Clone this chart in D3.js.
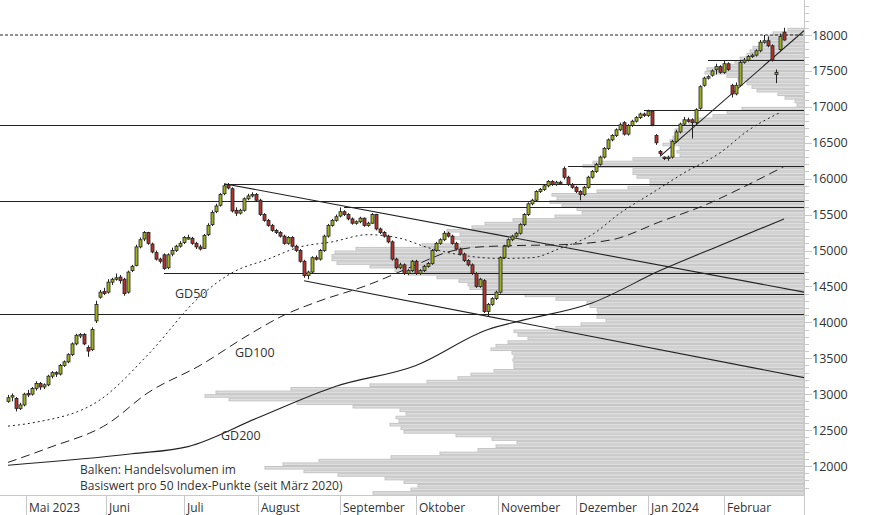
<!DOCTYPE html>
<html><head><meta charset="utf-8">
<script src="https://cdn.jsdelivr.net/npm/d3@7"></script>
<style>body{margin:0;background:#fff}svg{display:block;font-family:"Open Sans",sans-serif}</style>
</head><body><div id="chart"></div>
<script>
// daily candles [open, high, low, close]
const ohlc = [
[12900,12990,12880,12950],[12960,13010,12900,12980],[12940,12960,12760,12800],[12800,12880,12780,12850],[12850,13020,12830,13000],
[13010,13060,12960,13000],[13000,13100,12980,13080],[13080,13180,13050,13150],[13150,13170,13060,13100],[13100,13150,13070,13130],
[13130,13270,13110,13250],[13250,13320,13220,13300],[13300,13320,13240,13280],[13280,13420,13260,13400],[13400,13470,13380,13450],
[13450,13570,13430,13550],[13550,13720,13530,13700],[13700,13840,13680,13820],[13820,13850,13780,13830],[13830,13850,13680,13700],
[13650,13680,13520,13600],[13620,13930,13600,13900],[14020,14300,13990,14250],[14350,14450,14330,14420],[14430,14480,14380,14400],
[14420,14600,14400,14560],[14560,14620,14520,14600],[14610,14680,14580,14620],[14630,14660,14540,14580],[14600,14620,14370,14400],
[14420,14720,14400,14700],[14720,14800,14700,14780],[14790,15080,14780,15050],[15050,15180,15030,15150],[15160,15270,15130,15250],
[15250,15260,15080,15100],[15090,15110,14960,14980],[14970,15000,14860,14880],[14880,14900,14820,14850],[14940,14960,14730,14750],
[14760,14960,14740,14940],[14950,15040,14920,15000],[15000,15080,14980,15060],[15060,15130,15040,15100],[15110,15200,15090,15180],
[15180,15220,15150,15180],[15170,15190,15080,15100],[15100,15120,15020,15050],[15050,15080,15000,15020],[15030,15230,15020,15210],
[15220,15380,15200,15350],[15360,15560,15340,15530],[15540,15650,15520,15620],[15630,15800,15610,15780],[15790,15930,15770,15900],
[15910,15940,15850,15870],[15860,15880,15530,15550],[15560,15600,15480,15520],[15520,15580,15500,15560],[15560,15740,15540,15720],
[15720,15790,15700,15760],[15760,15810,15740,15780],[15780,15800,15680,15700],[15700,15720,15480,15500],[15500,15520,15400,15420],
[15420,15440,15330,15350],[15350,15370,15260,15280],[15280,15300,15230,15250],[15250,15270,15180,15200],[15200,15220,15080,15100],
[15100,15200,15080,15180],[15180,15200,15040,15060],[15060,15080,14980,15000],[15000,15020,14830,14850],[14850,14870,14620,14650],
[14650,14720,14600,14700],[14700,14920,14680,14900],[14900,14930,14860,14880],[14880,15020,14860,15000],[15000,15220,14980,15200],
[15200,15370,15180,15350],[15350,15440,15330,15420],[15420,15500,15400,15470],[15480,15600,15460,15540],[15540,15560,15480,15500],
[15500,15520,15420,15440],[15440,15460,15360,15380],[15380,15420,15360,15400],[15400,15470,15380,15450],[15450,15460,15330,15350],
[15350,15400,15330,15380],[15380,15520,15370,15500],[15500,15510,15280,15300],[15300,15320,15230,15250],[15250,15270,15180,15200],
[15200,15220,15100,15120],[15120,15140,14860,14880],[14880,14900,14740,14760],[14760,14830,14740,14800],[14800,14820,14660,14680],
[14680,14740,14660,14720],[14720,14870,14700,14850],[14850,14870,14660,14680],[14680,14740,14660,14720],[14720,14800,14700,14780],
[14780,14840,14760,14820],[14820,15020,14800,15000],[15000,15120,14980,15100],[15100,15170,15080,15150],[15150,15270,15130,15240],
[15240,15260,15180,15200],[15200,15220,15080,15100],[15100,15120,15000,15020],[15020,15040,14930,14950],[14950,14970,14840,14860],
[14860,14880,14780,14800],[14800,14820,14660,14680],[14680,14700,14480,14500],[14500,14620,14480,14600],[14580,14600,14130,14150],
[14150,14270,14080,14250],[14250,14350,14230,14330],[14330,14440,14310,14420],[14420,14920,14400,14900],[14900,15080,14880,15060],
[15060,15170,15040,15150],[15150,15220,15130,15200],[15200,15260,15180,15240],[15240,15380,15220,15360],[15360,15520,15340,15500],
[15500,15670,15480,15650],[15650,15720,15630,15700],[15700,15840,15680,15820],[15820,15870,15800,15850],[15850,15920,15830,15900],
[15900,15980,15880,15960],[15960,15980,15900,15920],[15920,15970,15900,15950],[15950,15970,15920,15940],[16140,16170,15990,16020],
[16020,16040,15900,15920],[15920,15940,15860,15880],[15880,15900,15800,15820],[15820,15840,15700,15780],[15780,15900,15760,15880],
[15880,16040,15860,16020],[16020,16120,16000,16100],[16100,16220,16080,16200],[16200,16320,16180,16300],[16300,16440,16280,16420],
[16420,16560,16400,16540],[16540,16620,16520,16600],[16600,16700,16580,16680],[16680,16780,16660,16750],[16780,16800,16600,16620],
[16620,16760,16600,16740],[16740,16820,16720,16800],[16800,16870,16780,16850],[16850,16920,16830,16900],[16900,16920,16860,16880],
[16880,16960,16860,16940],[16940,16950,16730,16750],[16600,16620,16470,16500],[16380,16400,16320,16350],[16300,16310,16260,16280],
[16280,16320,16250,16300],[16300,16540,16280,16520],[16520,16680,16500,16650],[16650,16780,16630,16760],[16760,16860,16740,16820],
[16820,16850,16780,16800],[16820,16840,16560,16780],[16780,16980,16760,16960],[16980,17300,16960,17280],[17300,17420,17280,17400],
[17400,17440,17380,17420],[17440,17520,17420,17500],[17520,17600,17450,17560],[17560,17580,17460,17480],[17480,17640,17460,17600],
[17600,17620,17500,17520],[17300,17320,17130,17180],[17180,17340,17160,17300],[17300,17650,17280,17620],[17620,17680,17600,17650],
[17650,17720,17630,17700],[17700,17740,17680,17720],[17720,17800,17700,17780],[17780,17930,17760,17900],[17900,18000,17880,17920],
[17920,17980,17830,17850],[17850,17870,17630,17650],[17450,17520,17330,17480],[17800,18020,17780,17980],[18040,18100,17920,17930]
];

// month labels and index of first trading day (in candle units)
const months = ["Mai 2023","Juni","Juli","August","September","Oktober","November","Dezember","Jan 2024","Februar"];
const monthIdx = [4.5, 24.5, 44, 62.5, 83, 102, 122.5, 142, 160, 179];

// volume profile: volume per 50-point bin, starting at 11600
const volStart = 11600;
const volume = [431,393,386,400,419,466,500,539,521,485,413,364,326,308,287,312,348,400,403,414,405,408,398,404,451,507,575,599,588,513,434,377,
346,333,310,290,290,291,290,292,313,308,296,276,286,290,248,223,198,207,206,207,214,217,248,279,321,334,336,345,367,396,409,434,467,472,472,469,448,
382,343,349,344,357,332,319,291,249,222,227,242,254,247,252,207,176,154,154,167,171,171,221,211,171,124,127,124,
141,134,131,127,129,122,115,107,91,77,62,7,9,19,26,47,52,57,66,77,99,97,74,69,64,57,54,51,42,37,36,31,16];

// moving averages [candle index, value]
const gd50 = [[0,12555],[6,12600],[23,12920],[35,13550],[48,14360],[56,14690],[65,14880],[73,15050],[81,15120],[90,15220],[98,15170],[105,15040],[113,14940],[123,14890],[131,14900],[138,15030],[146,15220],[153,15520],[161,15800],[169,16080],[178,16360],[185,16670],[193,16920]];
const gd100 = [[0,12050],[10,12250],[25,12590],[35,13020],[48,13400],[60,13820],[69,14100],[77,14280],[90,14520],[102,14800],[110,14980],[118,15050],[128,15070],[138,15080],[151,15150],[163,15400],[175,15650],[183,15860],[194,16170]];
const gd200 = [[0,12010],[31,12170],[45,12270],[62,12660],[82,13110],[102,13400],[120,13900],[128,14020],[146,14270],[163,14720],[178,15070],[194,15440]];

// horizontal levels [value, from candle index]
const levels = [[16950,159],[16750,-2],[16180,140],[15930,54],[15690,-2],[15605,84],[14680,39],[14390,100],[14120,-2],[17650,175]];
// trend lines [[idx,value],[idx,value]]
const trends = [[[54,15930],[199,14420]],[[74,14580],[199,13230]],[[163,16310],[199,18060]]];
const yTicks = [12000,12500,13000,13500,14000,14500,15000,15500,16000,16500,17000,17500,18000];

const W = 874, H = 515, plotR = 804, plotB = 495;
const svg = d3.select("#chart").append("svg").attr("width", W).attr("height", H);

const x = d3.scaleLinear().domain([0, ohlc.length - 1]).range([8, 784]);
const y = d3.scaleLinear().domain([12000, 18000]).range([466, 35]);
const vx = d3.scaleLinear().domain([0, 600]).range([0, 600]);
const binH = y(0) - y(50);

// volume profile
svg.append("g").selectAll("rect").data(volume).join("rect")
  .attr("x", d => plotR - vx(d)).attr("width", d => vx(d))
  .attr("y", (d, i) => y(volStart + (i + 1) * 50) + 0.5)
  .attr("height", binH - 1)
  .attr("fill", "#dedede").attr("stroke", "#c4c4c4").attr("stroke-width", 1);

// clip for plot area
svg.append("clipPath").attr("id", "clip").append("rect").attr("width", plotR).attr("height", plotB);
const g = svg.append("g").attr("clip-path", "url(#clip)");

// 18000 dashed
g.append("line").attr("x1", 0).attr("x2", plotR).attr("y1", y(18000)).attr("y2", y(18000))
  .attr("stroke", "#222").attr("stroke-dasharray", "3,2");

g.selectAll(".lvl").data(levels).join("line")
  .attr("x1", d => d[1] < 0 ? 0 : x(d[1])).attr("x2", plotR)
  .attr("y1", d => Math.round(y(d[0])) + 0.5).attr("y2", d => Math.round(y(d[0])) + 0.5)
  .attr("stroke", "#222").attr("stroke-width", 1.2);

g.selectAll(".trend").data(trends).join("line")
  .attr("x1", d => x(d[0][0])).attr("y1", d => y(d[0][1]))
  .attr("x2", d => x(d[1][0])).attr("y2", d => y(d[1][1]))
  .attr("stroke", "#222").attr("stroke-width", 1.1);

const line = d3.line().x(d => x(d[0])).y(d => y(d[1])).curve(d3.curveMonotoneX);
g.append("path").attr("d", line(gd50)).attr("fill", "none").attr("stroke", "#222").attr("stroke-dasharray", "2,3");
g.append("path").attr("d", line(gd100)).attr("fill", "none").attr("stroke", "#222").attr("stroke-dasharray", "9,5");
g.append("path").attr("d", line(gd200)).attr("fill", "none").attr("stroke", "#222").attr("stroke-width", 1.1);

// candles
const c = g.append("g").selectAll("g").data(ohlc).join("g");
c.append("line").attr("x1", (d, i) => Math.round(x(i)) + 0.5).attr("x2", (d, i) => Math.round(x(i)) + 0.5)
  .attr("y1", d => y(d[1])).attr("y2", d => y(d[2])).attr("stroke", "#222");
c.append("rect").attr("x", (d, i) => Math.round(x(i)) - 1).attr("width", 3)
  .attr("y", d => y(Math.max(d[0], d[3])))
  .attr("height", d => Math.max(1.5, Math.abs(y(d[0]) - y(d[3]))))
  .attr("fill", d => d[3] >= d[0] ? "#9fb01c" : "#b5322a")
  .attr("stroke", "#222").attr("stroke-width", 0.8);

// axes
svg.append("line").attr("x1", plotR + 0.5).attr("x2", plotR + 0.5).attr("y1", 0).attr("y2", H).attr("stroke", "#c8c8c8");
svg.append("line").attr("x1", 0).attr("x2", plotR).attr("y1", plotB + 0.5).attr("y2", plotB + 0.5).attr("stroke", "#c8c8c8");
const minor = d3.range(11700, 18500, 100);
svg.selectAll(".mt").data(minor).join("line")
  .attr("x1", plotR).attr("x2", d => plotR + (d % 500 === 0 ? 8 : 5))
  .attr("y1", d => Math.round(y(d)) + 0.5).attr("y2", d => Math.round(y(d)) + 0.5).attr("stroke", "#c8c8c8");
svg.selectAll(".yl").data(yTicks).join("text")
  .attr("x", 812).attr("y", d => y(d) + 4.5).text(d => d)
  .attr("font-size", 12.5).attr("fill", "#333");

svg.selectAll(".mx").data(monthIdx).join("line")
  .attr("x1", d => Math.round(x(d)) + 0.5).attr("x2", d => Math.round(x(d)) + 0.5)
  .attr("y1", plotB).attr("y2", H).attr("stroke", "#c8c8c8");
svg.selectAll(".ml").data(months).join("text")
  .attr("x", (d, i) => x(monthIdx[i]) + 3).attr("y", 512).text(d => d)
  .attr("font-size", 12).attr("fill", "#333");

// labels
const lab = [["GD50", 175, 298], ["GD100", 235, 357], ["GD200", 221, 440]];
svg.selectAll(".gl").data(lab).join("text").attr("x", d => d[1]).attr("y", d => d[2]).text(d => d[0])
  .attr("font-size", 12.5).attr("fill", "#333");
svg.append("text").attr("x", 80).attr("y", 474).text("Balken: Handelsvolumen im").attr("font-size", 12).attr("fill", "#333");
svg.append("text").attr("x", 80).attr("y", 490).text("Basiswert pro 50 Index-Punkte (seit März 2020)").attr("font-size", 12).attr("fill", "#333");
</script></body></html>
